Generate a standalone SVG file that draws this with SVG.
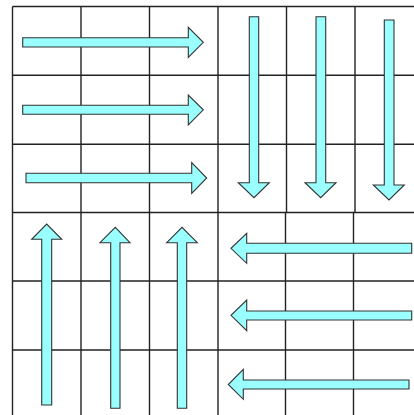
<svg xmlns="http://www.w3.org/2000/svg" width="414" height="415" viewBox="0 0 414 415">
<style>
.grid line{stroke:#222;stroke-width:1.4}
.arr polygon{fill:#99ffff;stroke:#333;stroke-width:1.1;stroke-linejoin:miter}
</style>
<rect width="414" height="415" fill="#fff"/>
<g id="grid" class="grid">
<line x1="12.5" y1="6.5" x2="12.5" y2="415"/>
<line x1="81" y1="6.5" x2="81" y2="415"/>
<line x1="149.5" y1="6.5" x2="149.5" y2="415"/>
<line x1="218" y1="6.5" x2="218" y2="415"/>
<line x1="286.5" y1="6.5" x2="286.5" y2="212.5"/>
<line x1="355" y1="6.5" x2="355" y2="212.5"/>
<line x1="285.5" y1="212.5" x2="285.5" y2="415"/>
<line x1="353.5" y1="212.5" x2="353.5" y2="415"/>
<line x1="12.5" y1="6.5" x2="414" y2="6.5"/>
<line x1="12.5" y1="75.3" x2="414" y2="75.3"/>
<line x1="12.5" y1="144.3" x2="414" y2="144.3"/>
<line x1="12.5" y1="212.5" x2="414" y2="212.5"/>
<line x1="12.5" y1="281" x2="414" y2="281"/>
<line x1="12.5" y1="350" x2="414" y2="350"/>
</g>
<g id="arrows" class="arr">
<g id="r1"><polygon points="22.7,37.7 188.3,37.7 188.3,27.3 203.3,42.3 188.3,57.3 188.3,47 22.7,47"/></g>
<g id="r2"><polygon points="22.7,105.3 188.3,105.3 188.3,95 203.3,109.8 188.3,125 188.3,114.3 22.7,114.3"/></g>
<g id="r3"><polygon points="26,173.3 191.7,173.3 191.7,162.7 206.7,178 191.7,193.3 191.7,182.7 26,182.7"/></g>
<g id="d1"><polygon points="249.3,16.7 258.7,16.7 258.7,182.7 269.3,182.7 254,197.7 238.3,182.7 249.3,182.7"/></g>
<g id="d2"><polygon points="316,16.7 325.7,16.7 325.7,182.7 336,182.7 320.7,197.7 305,182.7 316,182.7"/></g>
<g id="d3"><polygon points="384.3,20 394,20 394,185 404.3,185 389,200 373.3,185 384.3,185"/></g>
<g id="u1"><polygon points="41.7,405 41.7,239.3 31.7,239.3 46.7,224 61.7,239.3 51.7,239.3 51.7,405"/></g>
<g id="u2"><polygon points="110.7,408.3 110.7,242.7 100,242.7 115.3,227.3 130,242.7 120,242.7 120,408.3"/></g>
<g id="u3"><polygon points="177.3,408.3 177.3,242.7 166.7,242.7 182,227.3 197.3,242.7 186.7,242.7 186.7,408.3"/></g>
<g id="l1"><polygon points="411.7,243.3 246.7,243.3 246.7,233.3 231,248.3 246.7,263.3 246.7,253.3 411.7,253.3"/></g>
<g id="l2"><polygon points="411.7,311 246.7,311 246.7,300 231,315.3 246.7,330.7 246.7,320 411.7,320"/></g>
<g id="l3"><polygon points="409,380 243.3,380 243.3,369.3 228.3,384.5 243.3,399.3 243.3,389 409,389"/></g>
</g>
</svg>
